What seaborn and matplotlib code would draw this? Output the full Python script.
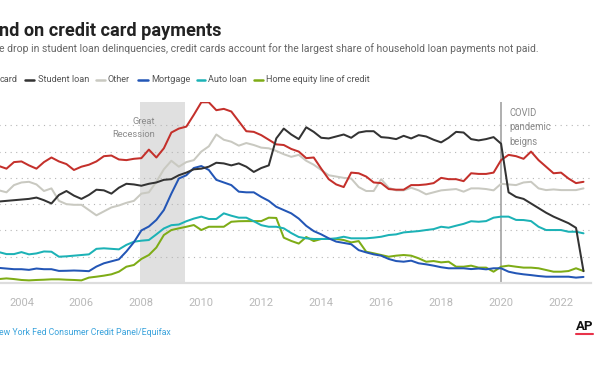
import numpy as np
import pandas as pd
import seaborn as sns
import matplotlib.pyplot as plt
from matplotlib.lines import Line2D

# Quarterly share of balances 90+ days delinquent, 2003 Q1 - 2022 Q4
years = np.arange(2003, 2023, 0.25)

credit_card = [9.0, 8.9, 8.7, 9.2, 9.25, 8.95, 8.7, 9.2, 9.55, 9.25, 9.05, 8.6,
               8.85, 9.0, 9.25, 9.65, 9.7, 9.4, 9.35, 9.45, 9.5, 10.15, 9.55, 10.25,
               11.45, 11.75, 11.9, 12.8, 13.75, 13.75, 13.15, 13.25, 13.05, 12.3, 11.55, 11.5,
               11.25, 10.9, 10.55, 10.5, 10.2, 10.0, 9.5, 9.55, 8.7, 7.9, 7.5, 7.3,
               8.4, 8.35, 8.1, 7.65, 7.6, 7.15, 7.1, 7.1, 7.45, 7.45, 7.5, 7.6,
               8.0, 7.9, 7.9, 7.75, 8.35, 8.3, 8.3, 8.4, 9.35, 9.75, 9.65, 9.45,
               10.0, 9.35, 8.85, 8.35, 8.4, 7.95, 7.6, 7.7]
student_loan = [6.15, 6.2, 6.25, 6.3, 6.35, 6.4, 6.5, 6.3, 6.05, 6.7, 7.0, 6.65,
                6.4, 6.7, 7.1, 7.05, 6.8, 7.25, 7.55, 7.5, 7.4, 7.55, 7.65, 7.85,
                7.9, 8.2, 8.4, 8.65, 8.7, 8.85, 9.15, 9.1, 8.95, 9.1, 8.85, 8.45,
                8.75, 8.95, 11.0, 11.75, 11.3, 10.95, 11.85, 11.5, 11.05, 11.0, 11.15, 11.3,
                11.05, 11.45, 11.55, 11.55, 11.1, 11.05, 10.95, 11.2, 11.0, 11.25, 11.15, 10.9,
                10.7, 11.05, 11.5, 11.45, 10.95, 10.85, 10.95, 11.1, 10.6, 6.9, 6.55, 6.4,
                6.05, 5.7, 5.35, 5.05, 4.8, 4.55, 4.2, 0.9]
other = [7.3, 7.05, 6.9, 7.45, 7.65, 7.7, 7.5, 7.0, 7.2, 6.25, 6.0, 5.95,
         5.95, 5.55, 5.15, 5.45, 5.75, 5.9, 6.1, 6.25, 6.8, 6.9, 7.7, 8.65,
         9.3, 8.85, 9.2, 9.35, 10.0, 10.4, 11.3, 10.9, 10.75, 10.45, 10.65, 10.5,
         10.3, 10.25, 10.05, 9.8, 9.6, 9.75, 9.3, 9.0, 8.6, 8.2, 8.1, 8.0,
         7.95, 7.3, 7.0, 7.0, 7.9, 7.25, 7.05, 7.05, 7.25, 7.05, 6.75, 6.9,
         7.05, 7.1, 7.15, 6.95, 7.2, 7.2, 7.15, 7.05, 7.55, 7.5, 7.45, 7.65,
         7.7, 7.2, 7.07, 7.12, 7.07, 7.07, 7.07, 7.2]
mortgage = [1.2, 1.15, 1.1, 1.05, 1.05, 1.0, 1.1, 1.05, 1.05, 0.92, 0.93, 0.95,
            0.93, 0.9, 1.25, 1.5, 1.65, 1.8, 2.4, 3.1, 4.0, 4.3, 4.8, 5.55,
            6.8, 7.95, 8.2, 8.75, 8.9, 8.6, 7.85, 7.65, 7.45, 6.95, 6.9, 6.9,
            6.55, 6.25, 5.8, 5.55, 5.3, 4.9, 4.35, 3.95, 3.7, 3.4, 3.15, 3.05,
            2.95, 2.5, 2.33, 2.18, 2.08, 1.83, 1.67, 1.62, 1.7, 1.5, 1.42, 1.32,
            1.2, 1.12, 1.12, 1.12, 1.06, 1.1, 1.04, 1.12, 1.12, 0.86, 0.74, 0.66,
            0.6, 0.53, 0.48, 0.48, 0.48, 0.48, 0.41, 0.46]
auto_loan = [2.4, 2.35, 2.2, 2.2, 2.35, 2.18, 2.25, 2.4, 2.38, 2.0, 2.03, 2.08,
             2.13, 2.18, 2.6, 2.64, 2.6, 2.56, 2.9, 3.14, 3.22, 3.27, 3.7, 4.15,
             4.4, 4.45, 4.7, 4.9, 5.05, 4.87, 4.87, 5.3, 5.12, 4.97, 4.97, 4.7,
             4.4, 4.28, 4.28, 4.16, 3.8, 3.5, 3.4, 3.35, 3.35, 3.35, 3.4, 3.52,
             3.4, 3.4, 3.4, 3.45, 3.52, 3.65, 3.7, 3.85, 3.9, 3.95, 4.03, 4.1,
             4.28, 4.21, 4.36, 4.5, 4.7, 4.66, 4.71, 4.97, 5.05, 5.05, 4.8, 4.79,
             4.71, 4.28, 4.03, 4.03, 4.03, 3.9, 3.9, 3.78]
heloc = [0.3, 0.3, 0.35, 0.3, 0.23, 0.2, 0.23, 0.25, 0.28, 0.28, 0.25, 0.23,
         0.2, 0.41, 0.48, 0.56, 0.66, 0.86, 1.24, 1.37, 1.83, 2.13, 2.7, 3.65,
         4.03, 4.16, 4.28, 4.41, 4.03, 4.28, 4.28, 4.28, 4.66, 4.7, 4.71, 4.71,
         4.71, 4.97, 4.95, 3.45, 3.2, 3.0, 3.5, 3.19, 3.35, 3.35, 3.35, 3.27,
         3.09, 3.19, 2.38, 2.26, 2.13, 2.0, 2.08, 2.13, 2.08, 1.88, 1.62, 1.67,
         1.57, 1.62, 1.24, 1.24, 1.32, 1.17, 1.17, 0.86, 1.24, 1.32, 1.24, 1.17,
         1.17, 1.12, 0.99, 0.86, 0.86, 0.91, 1.12, 0.91]

series = {
    "Credit card": credit_card,
    "Student loan": student_loan,
    "Other": other,
    "Mortgage": mortgage,
    "Auto loan": auto_loan,
    "Home equity line of credit": heloc,
}
colors = {
    "Credit card": "#c4302b",
    "Student loan": "#333333",
    "Other": "#c9c9c1",
    "Mortgage": "#2356b6",
    "Auto loan": "#1cb2b6",
    "Home equity line of credit": "#7eac16",
}
draw_order = ["Other", "Home equity line of credit", "Auto loan", "Mortgage",
              "Credit card", "Student loan"]

df = pd.concat([pd.DataFrame({"year": years, "value": v, "series": k})
                for k, v in series.items()], ignore_index=True)

sns.set_style("white")
plt.rcParams["font.family"] = ["Roboto", "DejaVu Sans"]

W, H = 612, 374
fig = plt.figure(figsize=(W / 100, H / 100), dpi=100)
renderer = fig.canvas.get_renderer()


def px(x, y):
    return x / W, 1 - y / H


def fit(t, width):
    # no condensed face installed, so size each text by the width it takes in the reference
    w = t.get_window_extent(renderer).width
    t.set_fontsize(t.get_fontsize() * width / w)
    return t


def fitted_size(s, width, **kw):
    probe = fig.text(0, 0, s, fontsize=10, **kw)
    size = fit(probe, width).get_fontsize()
    probe.remove()
    return size


# axes placed in pixel terms; the left edge sits just off the canvas
ax = fig.add_axes([-8.5 / W, (H - 283) / H, 599.5 / W, 180.7 / H])

ax.axvspan(2007.95, 2009.45, color="#e0e0e0", lw=0, zorder=0)
ax.axvline(2020.0, color="#9a9a9a", lw=1.1, zorder=1)

sns.lineplot(data=df, x="year", y="value", hue="series", hue_order=draw_order,
             palette=colors, linewidth=1.45, legend=False, ax=ax, zorder=3)

ax.set_xlim(2003, 2023)
ax.set_ylim(0, 13.75)
ax.set_yticks(range(2, 13, 2))
ax.yaxis.grid(True, linestyle=(0, (1, 4)), color="#b5b5b5", lw=0.8)
ax.tick_params(axis="y", length=0, labelleft=False)
ax.set_xticks(range(2004, 2023, 2))
ax.tick_params(axis="x", length=4.5, width=1, color="#dddddd", pad=6.5,
               labelsize=fitted_size("2004", 25), labelcolor="#b8b8b8")
ax.set_xlabel("")
ax.set_ylabel("")
for s in ["top", "right", "left"]:
    ax.spines[s].set_visible(False)
ax.spines["bottom"].set_color("#dddddd")
ax.spines["bottom"].set_linewidth(1.6)
ax.set_facecolor("none")

note = fitted_size("Recession", 43)
ax.text(2008.45, 12.3, "Great", ha="right", va="center", fontsize=note, color="#8a8a8a")
ax.text(2008.45, 11.3, "Recession", ha="right", va="center", fontsize=note,
        color="#8a8a8a")
covid = fitted_size("pandemic", 42)
for label, v in zip(["COVID", "pandemic", "beigns"], [12.95, 11.88, 10.75]):
    ax.text(2020.27, v, label, ha="left", va="center", fontsize=covid, color="#8a8a8a")

fit(fig.text(*px(-1, 36), "nd on credit card payments", fontsize=14,
             fontweight="bold", color="#222222", va="baseline"), 222)
fit(fig.text(*px(-1, 51.5), "e drop in student loan delinquencies, credit cards account "
             "for the largest share of household loan payments not paid.",
             fontsize=8, color="#666666", va="baseline"), 540)

# legend row
leg_size = fitted_size("Home equity line of credit", 104)
fig.text(*px(0, 82.5), "card", fontsize=leg_size, color="#555555", va="baseline")
legend_items = [("Student loan", 25, 34, 38), ("Other", 96, 104.5, 107.5),
                ("Mortgage", 138, 147.5, 151), ("Auto loan", 196.5, 204.5, 207.5),
                ("Home equity line of credit", 254, 262.5, 265.5)]
for name, x0, x1, xt in legend_items:
    fig.add_artist(Line2D([x0 / W, x1 / W], [1 - 79.5 / H] * 2, color=colors[name],
                          lw=1.8, transform=fig.transFigure))
    fig.text(*px(xt, 82.5), name, fontsize=leg_size, color="#555555", va="baseline")

fit(fig.text(*px(-1, 335), "ew York Fed Consumer Credit Panel/Equifax", fontsize=7,
             color="#3aa3dc", va="baseline"), 172)
fig.text(*px(584.7, 330), "AP", fontsize=9.5, fontweight="bold", color="#111111",
         ha="center", va="baseline")
fig.add_artist(Line2D([576 / W, 593 / W], [1 - 333.5 / H] * 2, color="#e8334a", lw=1.5,
                      transform=fig.transFigure))

fig.savefig("out.png", dpi=100)
